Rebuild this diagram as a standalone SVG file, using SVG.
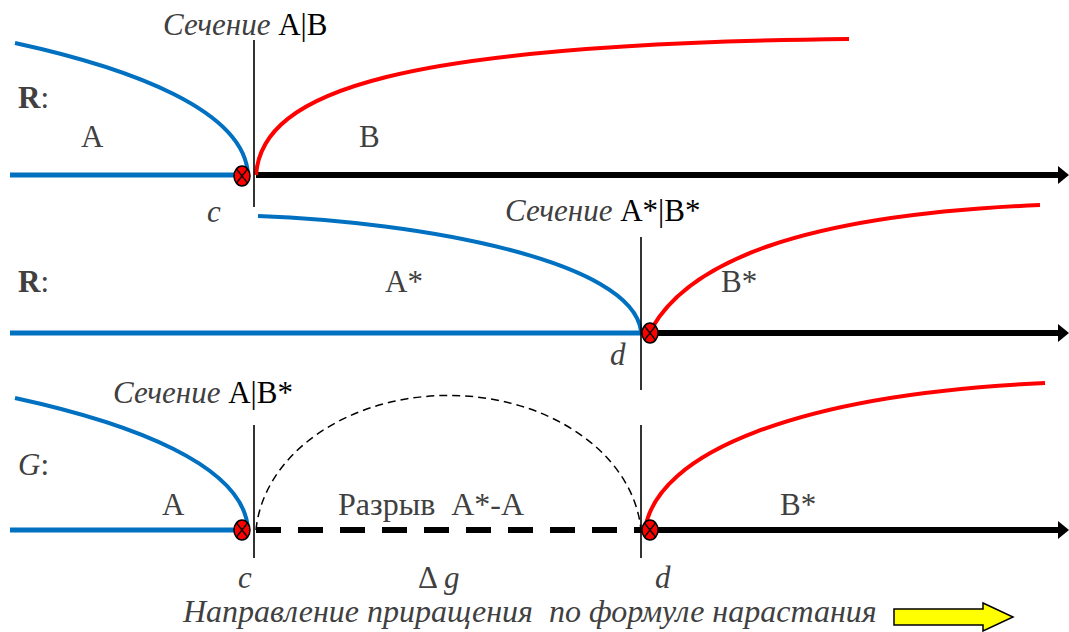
<svg xmlns="http://www.w3.org/2000/svg" width="1069" height="632" viewBox="0 0 1069 632">
<style>
text{font-family:'Liberation Serif','DejaVu Serif',serif;font-size:31px;fill:#404040}
.it{font-style:italic}
.k{fill:#000}
.big{font-size:32px}
.blue{fill:none;stroke:#0070C0;stroke-width:4}
.red{fill:none;stroke:#FF0000;stroke-width:4}
.axb{fill:none;stroke:#0070C0;stroke-width:5}
.ax{fill:none;stroke:#000;stroke-width:6}
.vl{fill:none;stroke:#000;stroke-width:1.6}
.mk ellipse{fill:#FF0000;stroke:#000;stroke-width:1.5}
.mk path{stroke:#000;stroke-width:1.3;fill:none}
</style>
<defs>
<g id="m" class="mk"><ellipse cx="0" cy="0" rx="8" ry="10"/><path d="M-5.5,-7 L5.5,7 M5.5,-7 L-5.5,7"/></g>
<polygon id="ah" points="0,-9 11,0 0,9"/>
</defs>
<g id="connectors">
<line class="axb" x1="10" y1="175" x2="238" y2="175"/>
<line class="ax" x1="256" y1="175" x2="1060" y2="175"/>
<use href="#ah" x="1058" y="175"/>
<path class="blue" d="M15,43 C130,68 245,110 248,175"/>
<path class="red" d="M256,175 C262,90 400,44 849,39"/>
<line class="vl" x1="254" y1="40" x2="254" y2="207"/>
<line class="axb" x1="10" y1="333" x2="643" y2="333"/>
<line class="ax" x1="658" y1="333" x2="1060" y2="333"/>
<use href="#ah" x="1058" y="333"/>
<path class="blue" d="M258,216 C420,222 632,260 641,331"/>
<path class="red" d="M652,328 C690,262 800,215 1040,205"/>
<line class="vl" x1="641" y1="237" x2="641" y2="390"/>
<line class="axb" x1="10" y1="530" x2="238" y2="530"/>
<line class="ax" x1="256" y1="530" x2="642" y2="530" stroke-dasharray="25 17"/>
<line class="ax" x1="658" y1="530" x2="1060" y2="530"/>
<use href="#ah" x="1058" y="530"/>
<path class="blue" d="M15,398 C130,423 245,465 248,530"/>
<path d="M256,530 A193,145 0 0 1 641,530" fill="none" stroke="#000" stroke-width="1.5" stroke-dasharray="8 5"/>
<path class="red" d="M645,530 C656,452 800,394 1045,383"/>
<line class="vl" x1="254" y1="425" x2="254" y2="558"/>
<line class="vl" x1="641" y1="425" x2="641" y2="558"/>
</g>
<g id="markers">
<use id="m1" href="#m" x="242" y="176"/>
<use id="m2" href="#m" x="650" y="333"/>
<use id="m3" href="#m" x="242" y="530"/>
<use id="m4" href="#m" x="650" y="530"/>
</g>
<g id="labels">
<text x="163" y="35"><tspan class="it">Сечение </tspan><tspan class="k">A|B</tspan></text>
<text x="18" y="108"><tspan font-weight="bold">R</tspan>:</text>
<text x="81" y="147">A</text>
<text x="359" y="147">B</text>
<text class="it" x="207" y="222">c</text>
<text x="505" y="221"><tspan class="it">Сечение </tspan><tspan class="k">A*|B*</tspan></text>
<text x="18" y="292"><tspan font-weight="bold">R</tspan>:</text>
<text x="385" y="292">A*</text>
<text x="721" y="292">B*</text>
<text class="it" x="610" y="365">d</text>
<text x="113" y="403"><tspan class="it">Сечение </tspan><tspan class="k">A|B*</tspan></text>
<text x="18" y="475"><tspan class="it">G</tspan>:</text>
<text x="162" y="515">A</text>
<text class="big" x="338" y="515" xml:space="preserve">Разрыв  A*-A</text>
<text x="780" y="515">B*</text>
<text class="it" x="238" y="588">c</text>
<text x="418" y="588">Δ <tspan class="it">g</tspan></text>
<text class="it" x="655" y="588">d</text>
<text class="it big" x="183" y="622" xml:space="preserve">Направление приращения  по формуле нарастания</text>
</g>
<g id="direction-arrow">
<polygon points="894,609 983,609 983,603 1013,617 983,631 983,625 894,625" fill="#FFFF00" stroke="#000" stroke-width="1.5"/>
</g>
</svg>
